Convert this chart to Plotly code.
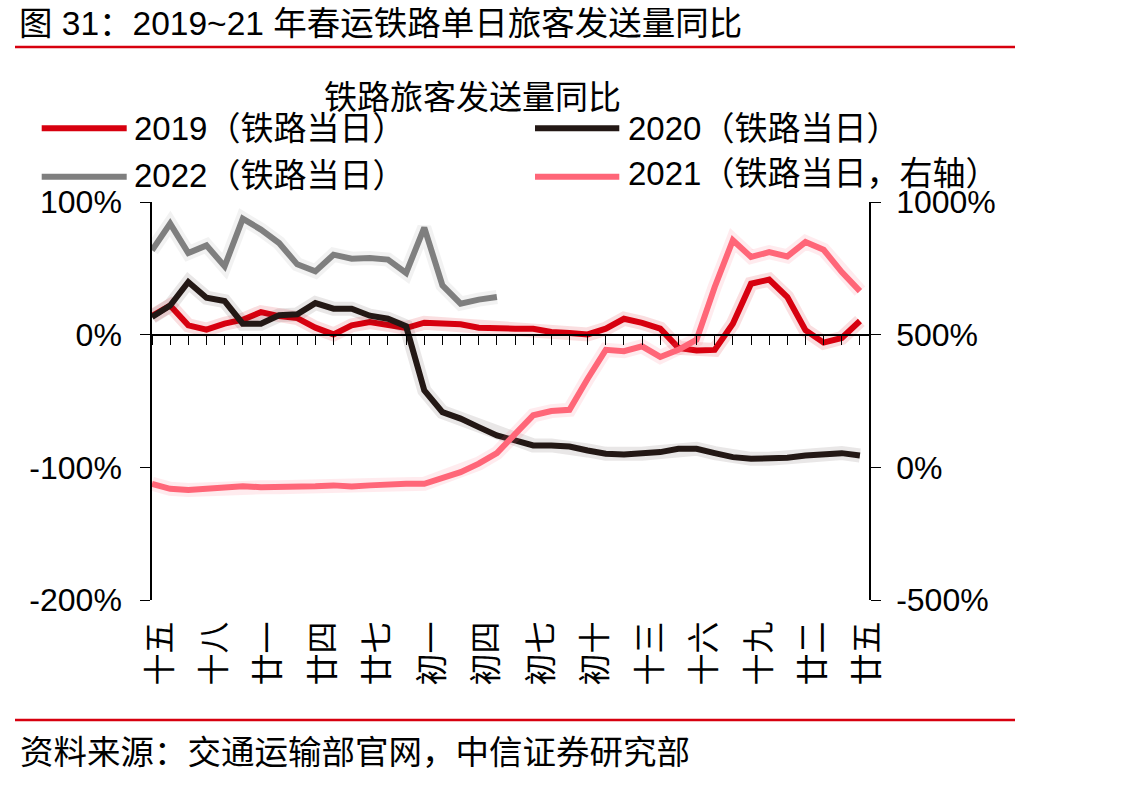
import plotly.graph_objects as go

# ---------------- data ----------------
categories = ["十五", "十六", "十七", "十八", "十九", "二十", "廿一", "廿二", "廿三", "廿四",
              "廿五", "廿六", "廿七", "廿八", "廿九",
              "初一", "初二", "初三", "初四", "初五", "初六", "初七", "初八", "初九", "初十",
              "十一", "十二", "十三", "十四", "十五", "十六", "十七", "十八", "十九", "二十",
              "廿一", "廿二", "廿三", "廿四", "廿五"]

y2019 = [14, 22, 7, 3.8, 8.3, 11.3, 17, 14, 12.5, 5.3,
         0.2, 7, 9.5, 7.5, 5, 9, 8, 7.8, 5.3, 4.5,
         4.5, 4.5, 2, 1.2, 0.2, 4.5, 12, 8.9, 4.5, -10,
         -12, -11.5, 8.3, 38.4, 41.5, 28.4, 3.3, -6, -2.5, 10.3]

y2020 = [13.3, 22, 39.7, 27.9, 25.3, 8.3, 8.3, 14.6, 15.3, 23.8,
         19.6, 19.6, 14.3, 12, 6.3, -42, -58.4, -63.3, -69.7, -75.9,
         -79.7, -83.5, -83.5, -84.3, -87.3, -89.8, -90.3, -89.8, -88.5, -86,
         -86, -89.3, -92.3, -93.6, -93.6, -92.8, -91.1, -89.8, -89.3, -91.1]

y2022 = [63.6, 83.7, 61.5, 67.3, 51.5, 87.5, 79.2, 69.1, 53, 47.7,
         60.3, 57.3, 57.8, 56.6, 46.5, 80.7, 37.2, 23.4, 26.4, 28.4]

y2021 = [-62, -81, -85, -80, -80, -71, -75, -75, -75, -71,
         -68, -72, -68, -64, -62, -62, -37, -18, 14, 54,
         125, 196, 212, 217, 334, 443, 438, 456, 416, 443,
         481, 680, 856, 793, 811, 795, 849, 820, 736, 664]

left_ticks = [-200, -100, 0, 100]
right_ticks = [-500, 0, 500, 1000]

series_names = ["2019（铁路当日）", "2020（铁路当日）", "2022（铁路当日）", "2021（铁路当日，右轴）"]
title_text = "图 31：2019~21 年春运铁路单日旅客发送量同比"
legend_title = "铁路旅客发送量同比"
source_text = "资料来源：交通运输部官网，中信证券研究部"

# ---------------- style ----------------
FONT = "Liberation Sans, Noto Sans CJK SC, sans-serif"
C2019 = "#D7000F"
C2020 = "#231815"
C2022 = "#7F7F7F"
C2021 = "#FF6678"
SHADOW = {C2019: "rgba(215,0,15,0.13)", C2020: "rgba(35,24,21,0.10)",
          C2022: "rgba(127,127,127,0.10)", C2021: "rgba(255,102,120,0.13)"}
LW = 6

PL, PR, PT, PB = 152, 869, 202, 600
W, H = 1147, 785
XR = [0, 39.5]
LABEL_SHIFT = 0.45  # labels sit a little right of their tick


def fx(px):
    return (px - PL) / (PR - PL)


def fy(py):
    return (PB - py) / (PB - PT)


xs = list(range(len(categories)))

fig = go.Figure()

specs = [
    (y2022, C2022, "y", series_names[2]),
    (y2019, C2019, "y", series_names[0]),
    (y2020, C2020, "y", series_names[1]),
    (y2021, C2021, "y2", series_names[3]),
]

for vals, col, yax, name in specs:
    fig.add_trace(go.Scatter(x=xs[:len(vals)], y=vals, mode="lines", yaxis=yax,
                             line=dict(color=SHADOW[col], width=LW + 8),
                             hoverinfo="skip", showlegend=False))
    fig.add_trace(go.Scatter(x=xs[:len(vals)], y=vals, mode="lines", yaxis=yax, name=name,
                             line=dict(color=col, width=LW), showlegend=False))

fig.update_layout(
    width=W, height=H,
    margin=dict(l=PL, r=W - PR, t=PT, b=H - PB),
    paper_bgcolor="white", plot_bgcolor="white",
    showlegend=False,
    font=dict(family=FONT, size=32, color="black"),
    xaxis=dict(range=XR, anchor="free",
               position=(0 - left_ticks[0]) / (left_ticks[-1] - left_ticks[0]),
               showline=True, linecolor="black", linewidth=1.5,
               ticks="outside", ticklen=10, tickwidth=1.3, tickcolor="black",
               tickmode="linear", tick0=0, dtick=1,
               showticklabels=False, showgrid=False, zeroline=False),
    xaxis2=dict(range=[XR[0] - LABEL_SHIFT, XR[1] - LABEL_SHIFT], overlaying="x",
                anchor="y", side="bottom",
                showline=False, showgrid=False, zeroline=False, ticks="",
                tickmode="array",
                tickvals=list(range(0, len(categories), 3)),
                ticktext=[categories[i] for i in range(0, len(categories), 3)],
                tickangle=-90, tickfont=dict(size=32), ticklabelstandoff=14),
    yaxis=dict(range=[left_ticks[0], left_ticks[-1]], tickmode="array",
               tickvals=left_ticks, ticktext=[f"{v}%" for v in left_ticks],
               showline=True, linecolor="black", linewidth=1.5,
               ticks="outside", ticklen=10, tickwidth=1.3, tickcolor="black",
               showgrid=False, zeroline=False, tickfont=dict(size=32),
               ticklabelstandoff=12),
    yaxis2=dict(range=[right_ticks[0], right_ticks[-1]], overlaying="y", side="right",
                tickmode="array", tickvals=right_ticks,
                ticktext=[f"{v}%" for v in right_ticks],
                showline=True, linecolor="black", linewidth=1.5,
                ticks="outside", ticklen=10, tickwidth=1.3, tickcolor="black",
                showgrid=False, zeroline=False, tickfont=dict(size=32),
                ticklabelstandoff=9),
)

# invisible helper trace so the label axis is drawn
fig.add_trace(go.Scatter(x=[x - LABEL_SHIFT for x in xs], y=y2019, xaxis="x2", mode="lines",
                         line=dict(width=0, color="rgba(0,0,0,0)"),
                         hoverinfo="skip", showlegend=False))

annotations = [
    dict(text=title_text, x=fx(17), y=fy(23), xanchor="left", yanchor="middle",
         font=dict(size=33.5)),
    dict(text=legend_title, x=fx(472.5), y=fy(98), xanchor="center", yanchor="middle",
         font=dict(size=33)),
    dict(text=series_names[0], x=fx(132), y=fy(128.3), xanchor="left", yanchor="middle",
         font=dict(size=33)),
    dict(text=series_names[1], x=fx(625.5), y=fy(128.3), xanchor="left", yanchor="middle",
         font=dict(size=33)),
    dict(text=series_names[2], x=fx(132), y=fy(175.5), xanchor="left", yanchor="middle",
         font=dict(size=33)),
    dict(text=series_names[3], x=fx(625.5), y=fy(173.5), xanchor="left", yanchor="middle",
         font=dict(size=33)),
    dict(text=source_text, x=fx(18), y=fy(752), xanchor="left", yanchor="middle",
         font=dict(size=33.5)),
]
for a in annotations:
    a.update(xref="paper", yref="paper", showarrow=False)
fig.update_layout(annotations=annotations)

shapes = [
    dict(type="line", x0=fx(15), x1=fx(1015), y0=fy(47), y1=fy(47),
         line=dict(color=C2019, width=2.5)),
    dict(type="line", x0=fx(15), x1=fx(1015), y0=fy(720), y1=fy(720),
         line=dict(color=C2019, width=2.5)),
]
legend_lines = [(41.7, 126.7, 128.3, C2019), (535, 619.3, 128.3, C2020),
                (41.7, 126.7, 176.7, C2022), (535, 619.3, 176.7, C2021)]
for x0, x1, yy, col in legend_lines:
    shapes.append(dict(type="line", x0=fx(x0), x1=fx(x1), y0=fy(yy), y1=fy(yy),
                       line=dict(color=col, width=LW)))
for s in shapes:
    s.update(xref="paper", yref="paper")
fig.update_layout(shapes=shapes)

fig.write_html("out.html")
